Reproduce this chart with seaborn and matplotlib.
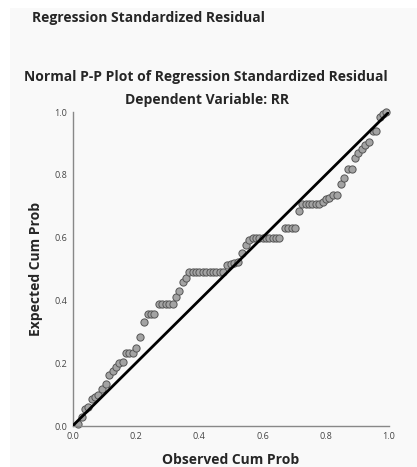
import matplotlib
matplotlib.use("Agg")
import matplotlib.pyplot as plt
import seaborn as sns
import pandas as pd
from matplotlib.patches import Rectangle

# Observed vs expected cumulative probabilities of the standardized residuals
observed_cum_prob = [
    0.018, 0.029, 0.040, 0.050, 0.061, 0.071, 0.082, 0.094, 0.105, 0.116,
    0.127, 0.137, 0.148, 0.158, 0.169, 0.180, 0.190, 0.201, 0.212, 0.227,
    0.238, 0.249, 0.259, 0.272, 0.283, 0.294, 0.305, 0.316, 0.327, 0.337,
    0.348, 0.359, 0.369, 0.380, 0.390, 0.401, 0.412, 0.422, 0.433, 0.444,
    0.454, 0.465, 0.476, 0.489, 0.500, 0.511, 0.524, 0.536, 0.547, 0.557,
    0.569, 0.580, 0.590, 0.601, 0.611, 0.622, 0.632, 0.643, 0.653, 0.671,
    0.682, 0.693, 0.704, 0.716, 0.726, 0.737, 0.747, 0.758, 0.768, 0.779,
    0.790, 0.800, 0.811, 0.824, 0.835, 0.847, 0.858, 0.871, 0.882, 0.893,
    0.903, 0.914, 0.924, 0.936, 0.949, 0.960, 0.970, 0.980, 0.990,
]
expected_cum_prob = [
    0.005, 0.028, 0.053, 0.060, 0.085, 0.093, 0.100, 0.117, 0.133, 0.162,
    0.174, 0.189, 0.200, 0.205, 0.233, 0.233, 0.233, 0.250, 0.282, 0.332,
    0.357, 0.357, 0.357, 0.389, 0.389, 0.389, 0.389, 0.389, 0.410, 0.431,
    0.458, 0.470, 0.491, 0.491, 0.491, 0.491, 0.491, 0.491, 0.491, 0.491,
    0.491, 0.491, 0.491, 0.513, 0.516, 0.518, 0.523, 0.552, 0.576, 0.592,
    0.598, 0.598, 0.598, 0.598, 0.598, 0.598, 0.598, 0.598, 0.598, 0.631,
    0.631, 0.631, 0.631, 0.686, 0.706, 0.706, 0.706, 0.706, 0.706, 0.706,
    0.714, 0.723, 0.727, 0.736, 0.736, 0.772, 0.791, 0.817, 0.817, 0.853,
    0.870, 0.881, 0.894, 0.905, 0.940, 0.940, 0.985, 0.994, 0.999,
]
# Line of perfect agreement
ref_line = [0.0, 1.0]
tick_values = [0.0, 0.2, 0.4, 0.6, 0.8, 1.0]
tick_labels = ["0.0", "0.2", "0.4", "0.6", "0.8", "1.0"]

sns.set_style("white")
plt.rcParams["font.family"] = ["Open Sans", "DejaVu Sans"]

df = pd.DataFrame({"observed": observed_cum_prob, "expected": expected_cum_prob})

fig = plt.figure(figsize=(4.17, 4.67), dpi=100)
fig.patch.set_facecolor("white")
# light panel behind the chart
panel = Rectangle((10 / 417, 0), 1 - 10 / 417, 1 - 8 / 467,
                  transform=fig.transFigure, facecolor="#f9f9f9",
                  edgecolor="none", zorder=-10)
fig.add_artist(panel)

ax = fig.add_axes([72.5 / 417, 41 / 467, 316.5 / 417, 314 / 467])
ax.set_facecolor("none")
ax.set_zorder(1)

sns.scatterplot(data=df, x="observed", y="expected", ax=ax, s=27,
                color="#a3a3a3", edgecolor="#555555", linewidth=0.7,
                clip_on=False, zorder=2)
sns.lineplot(x=ref_line, y=ref_line, ax=ax, color="black", linewidth=2.0,
             zorder=3)

ax.set_xlim(0, 1)
ax.set_ylim(0, 1)
ax.set_xticks(tick_values)
ax.set_xticklabels(tick_labels)
ax.set_yticks(tick_values)
ax.set_yticklabels(tick_labels)
ax.tick_params(axis="both", length=0, labelsize=6.5, colors="#444444", pad=4)

for side in ("top", "right"):
    ax.spines[side].set_visible(False)
for side in ("left", "bottom"):
    ax.spines[side].set_color("#888888")
    ax.spines[side].set_linewidth(1.0)

ax.set_xlabel("Observed Cum Prob", fontsize=10, fontweight="bold", labelpad=9)
ax.set_ylabel("Expected Cum Prob", fontsize=10, fontweight="bold", labelpad=8)

fig.text(32 / 417, 1 - 18 / 467, "Regression Standardized Residual",
         fontsize=10, fontweight="bold", ha="left", va="center")
fig.text(206 / 417, 1 - 77 / 467,
         "Normal P-P Plot of Regression Standardized Residual",
         fontsize=10, fontweight="bold", ha="center", va="center")
fig.text(207 / 417, 1 - 100 / 467, "Dependent Variable: RR",
         fontsize=10, fontweight="bold", ha="center", va="center")

fig.savefig("out.png", dpi=100, facecolor=fig.get_facecolor())
